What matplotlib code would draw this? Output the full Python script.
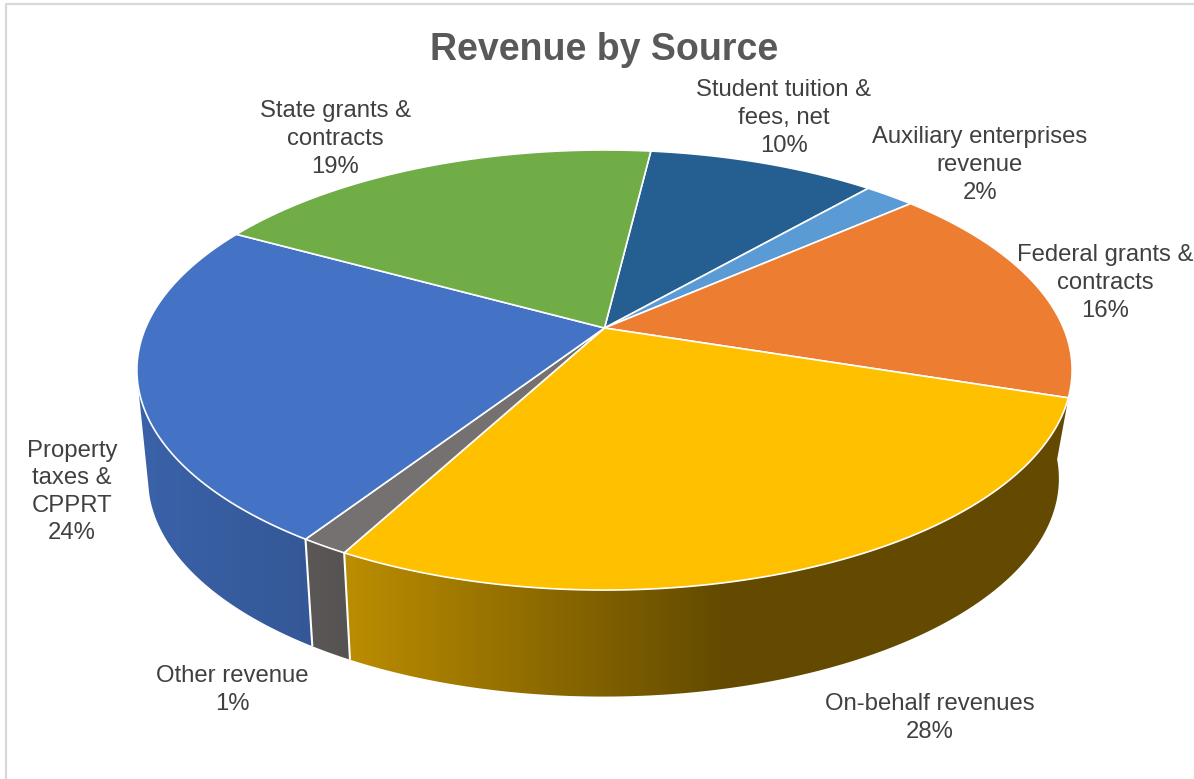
# -*- coding: utf-8 -*-
import numpy as np
import matplotlib
matplotlib.use("Agg")
import matplotlib.pyplot as plt
from matplotlib.colors import to_rgb
from matplotlib.patches import Polygon

# data, clockwise from the start angle
labels = ["Student tuition &\nfees, net", "Auxiliary enterprises\nrevenue",
          "Federal grants &\ncontracts", "On-behalf revenues", "Other revenue",
          "Property\ntaxes &\nCPPRT", "State grants &\ncontracts"]
values = [9.5, 2.1, 16.5, 27.8, 1.4, 23.8, 18.9]
colors = ["#255E91", "#5B9BD5", "#ED7D31", "#FFC000", "#767171", "#4472C4", "#70AD47"]
label_x = [784, 980, 1105, 930, 232, 72, 335]
label_y = [118, 165, 283, 718, 690, 492, 139]

START_ANGLE = 6.9
K = 0.191  # perspective strength
CX, CY = 604.5, 328

plt.rcParams["font.family"] = ["Liberation Sans", "DejaVu Sans"]

# pixel coordinates: 1 data unit is 1 pixel of the picture
fig = plt.figure(figsize=(11.94, 7.79), dpi=100, facecolor="white")
ax = fig.add_axes([0, 0, 1, 1])
ax.axis("off")


def top_pt(deg):
    a = np.radians(deg)
    x, y = np.sin(a), np.cos(a)
    return CX + 459 * x / (1 + K * y), CY - 212 * y / (1 + K * y)


def bottom_pt(deg):
    a = np.radians(deg)
    x, y = np.sin(a), np.cos(a)
    return 603.5 + 447 * x / (1 + K * y), 437 - 210 * y / (1 + K * y)


def shade(px):
    # the side gets darker from left to right, flat after x=720
    return np.interp(px, [140, 310, 350, 720], [0.86, 0.77, 0.73, 0.39])


fracs = np.array(values) / sum(values) * 360
ends = START_ANGLE + np.cumsum(fracs)
starts = ends - fracs

# side walls, only the slices in front can be seen
for i in range(len(values)):
    if ends[i] <= 110 or starts[i] >= 255:
        continue
    e = min(ends[i], 255)
    top_arc = [top_pt(a) for a in np.linspace(starts[i], e, 120)]
    low_start = 96 if starts[i] < 110 else starts[i]  # on-behalf wall runs out to the rim
    low_arc = [bottom_pt(a) for a in np.linspace(e, low_start, 120)]
    verts = np.array(top_arc + low_arc)
    x0, x1 = verts[:, 0].min(), verts[:, 0].max()
    y0, y1 = verts[:, 1].min(), verts[:, 1].max()
    xs = np.linspace(x0, x1, 400)
    grad = np.outer(shade(xs), to_rgb(colors[i])).reshape(1, 400, 3)
    im = ax.imshow(grad, extent=[x0, x1, y1, y0], aspect="auto", zorder=2,
                   interpolation="bilinear")
    clip = Polygon(verts, closed=True, transform=ax.transData)
    im.set_clip_path(clip)

ax.set_xlim(0, 1194)
ax.set_ylim(779, 0)

# white seams between the walls
for i in range(len(values)):
    if 200 < starts[i] < 230:
        p0, p1 = top_pt(starts[i]), bottom_pt(starts[i])
        ax.plot([p0[0], p1[0]], [p0[1], p1[1]], color="white", lw=1.5, zorder=3,
                solid_capstyle="butt")

# top face
for i in range(len(values)):
    arc = np.linspace(starts[i], ends[i], int(fracs[i] * 3) + 2)
    verts = [(CX, CY)] + [top_pt(a) for a in arc]
    ax.add_patch(Polygon(verts, closed=True, facecolor=colors[i], edgecolor="white",
                         lw=1.2, joinstyle="round", zorder=4))

# labels
for name, val, lx, ly in zip(labels, values, label_x, label_y):
    ax.text(lx, ly, f"{name}\n{val:.0f}%", ha="center", va="center", ma="center",
            fontsize=17.2, color="#404040", linespacing=1.33, zorder=6)

ax.text(604, 50, "Revenue by Source", ha="center", va="center", fontsize=27,
        fontweight="bold", color="#595959", zorder=6)

# chart frame, only left and top are inside the crop
ax.plot([5.5, 5.5, 1194], [779, 4, 4], color="#D9D9D9", lw=1.6, zorder=1)

fig.savefig("out.png", dpi=100)
